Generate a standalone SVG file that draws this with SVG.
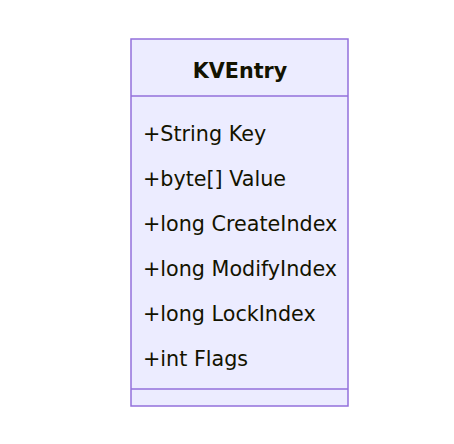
<svg xmlns="http://www.w3.org/2000/svg" width="454" height="444" viewBox="0 0 454 444">
<style>
.box{fill:#ECECFF;stroke:#9370DB;stroke-width:1.5}
.div{stroke:#9370DB;stroke-width:1.5}
.t{font-family:"DejaVu Sans","Noto Sans",sans-serif;font-size:20.7px;fill:#131300}
.h{font-weight:bold;text-anchor:middle}
</style>
<rect width="454" height="444" fill="#fff"/>
<g id="KVEntry">
<rect class="box" x="131" y="39" width="217" height="367"/>
<line class="div" x1="131" y1="96" x2="348" y2="96"/>
<line class="div" x1="131" y1="389" x2="348" y2="389"/>
<text class="t h" x="240" y="78">KVEntry</text>
<text class="t" x="143" y="141">+String Key</text>
<text class="t" x="143" y="186">+byte[] Value</text>
<text class="t" x="143" y="231">+long CreateIndex</text>
<text class="t" x="143" y="276">+long ModifyIndex</text>
<text class="t" x="143" y="321">+long LockIndex</text>
<text class="t" x="143" y="366">+int Flags</text>
</g>
<g id="connectors"/>
</svg>
